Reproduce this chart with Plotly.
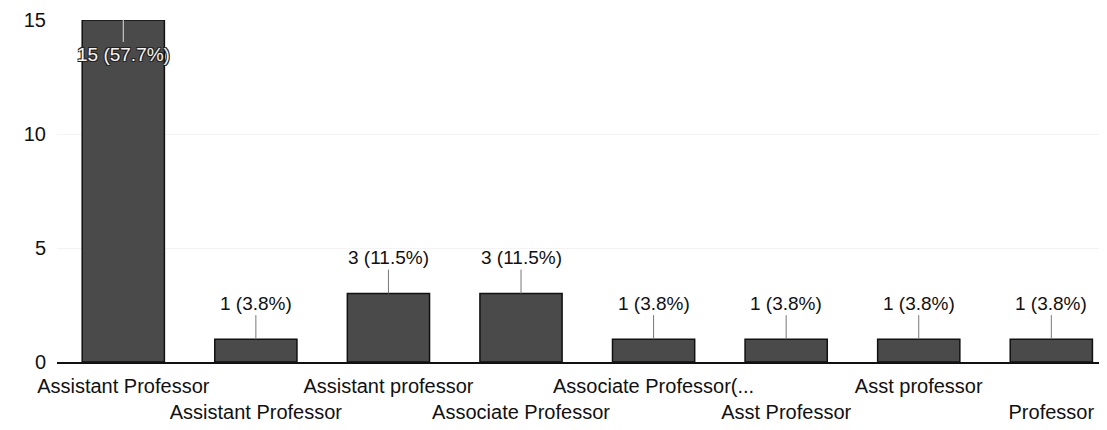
import plotly.graph_objects as go

categories = ["Assistant Professor", "Assistant Professor ", "Assistant professor",
              "Associate Professor", "Associate Professor(...", "Asst Professor",
              "Asst professor", "Professor"]
counts = [15, 1, 3, 3, 1, 1, 1, 1]
percents = ["57.7%", "3.8%", "11.5%", "11.5%", "3.8%", "3.8%", "3.8%", "3.8%"]
y_ticks = [0, 5, 10, 15]

xs = list(range(len(categories)))
ticktext = [c.strip() if i % 2 == 0 else "<br>" + c.strip() for i, c in enumerate(categories)]

fig = go.Figure()
fig.add_trace(go.Bar(
    x=xs, y=counts, width=0.62,
    marker=dict(color="#4a4a4a", line=dict(color="#111111", width=1.5)),
    hoverinfo="skip",
))

font = "Liberation Sans, Arial, sans-serif"
outline = "1px 1px 0 #222, -1px -1px 0 #222, 1px -1px 0 #222, -1px 1px 0 #222"
for x, c, p in zip(xs, counts, percents):
    inside = c == max(counts)
    fig.add_annotation(
        x=x, y=c, xref="x", yref="y",
        text=f"{c} ({p})",
        showarrow=True, arrowhead=0, arrowwidth=1,
        arrowcolor="#dddddd" if inside else "#777777",
        ax=0, ay=34 if inside else -36,
        font=dict(family=font, size=19,
                  color="#f4f4f4" if inside else "#111111",
                  shadow=outline if inside else "none"),
    )

# page body has an 8px margin; size the figure so the plot lands where the reference has it
fig.update_layout(
    width=1099, height=422,
    margin=dict(l=49, r=0, t=12, b=68, autoexpand=False),
    plot_bgcolor="white", paper_bgcolor="white",
    showlegend=False,
    font=dict(family=font, size=20, color="#111111"),
    xaxis=dict(
        range=[-0.5, 7.42], tickmode="array", tickvals=xs, ticktext=ticktext,
        showline=True, linecolor="#111111", linewidth=2, ticks="",
        showgrid=False, zeroline=False, tickfont=dict(size=20),
        tickangle=0, automargin=False, ticklabelstandoff=5,
    ),
    yaxis=dict(
        range=[0, 15], tickmode="array", tickvals=y_ticks,
        showgrid=True, gridcolor="#f3f3f3", zeroline=False, showline=False,
        ticklabelstandoff=10, tickfont=dict(size=20), automargin=False,
    ),
)

fig.write_html("out.html")
